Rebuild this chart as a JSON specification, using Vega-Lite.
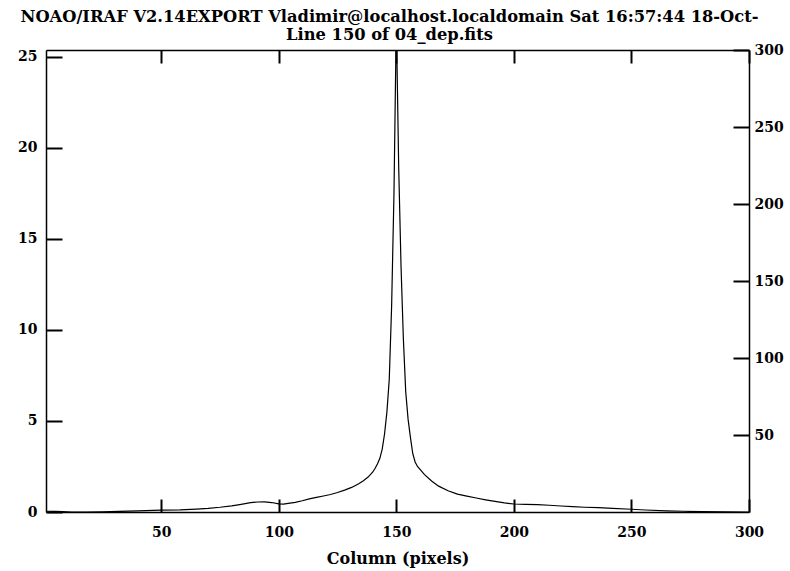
{
  "$schema": "https://vega.github.io/schema/vega-lite/v6.json",
  "width": 703,
  "height": 462,
  "autosize": {"type": "none"},
  "padding": {"left": 46, "top": 50, "right": 41, "bottom": 59},
  "background": "white",
  "config": {
    "view": {"stroke": null},
    "axis": {
      "domainColor": "black",
      "domainWidth": 1.5,
      "tickColor": "black",
      "tickWidth": 2,
      "labelColor": "black",
      "labelFont": "DejaVu Serif",
      "labelFontWeight": "bold",
      "labelFontSize": 14,
      "labelFlush": false,
      "labelOverlap": false,
      "grid": false,
      "titleColor": "black",
      "titleFont": "DejaVu Serif",
      "titleFontWeight": "bold",
      "titleFontSize": 16
    }
  },
  "title": {
    "text": ["NOAO/IRAF V2.14EXPORT Vladimir@localhost.localdomain Sat 16:57:44 18-Oct-", "Line 150 of 04_dep.fits"],
    "anchor": "middle",
    "dx": -8,
    "font": "DejaVu Serif",
    "fontSize": 16.3,
    "fontWeight": "bold",
    "lineHeight": 18,
    "offset": 0,
    "color": "black"
  },
  "data": {
    "values": [
      {"c": 1, "v": 0.04}, {"c": 5, "v": 0.03}, {"c": 8, "v": 0.02}, {"c": 12, "v": 0.0},
      {"c": 18, "v": 0.0}, {"c": 25, "v": 0.01}, {"c": 32, "v": 0.03}, {"c": 40, "v": 0.06},
      {"c": 50, "v": 0.1}, {"c": 58, "v": 0.12}, {"c": 65, "v": 0.16}, {"c": 70, "v": 0.2},
      {"c": 75, "v": 0.26}, {"c": 80, "v": 0.34}, {"c": 84, "v": 0.42}, {"c": 88, "v": 0.51},
      {"c": 91, "v": 0.55}, {"c": 94, "v": 0.56}, {"c": 97, "v": 0.52}, {"c": 100, "v": 0.45},
      {"c": 102, "v": 0.43}, {"c": 104, "v": 0.47}, {"c": 107, "v": 0.53}, {"c": 110, "v": 0.62},
      {"c": 113, "v": 0.72}, {"c": 116, "v": 0.8}, {"c": 119, "v": 0.88}, {"c": 122, "v": 0.96},
      {"c": 125, "v": 1.07}, {"c": 128, "v": 1.2}, {"c": 131, "v": 1.35}, {"c": 134, "v": 1.55},
      {"c": 136, "v": 1.72}, {"c": 138, "v": 1.92}, {"c": 140, "v": 2.2}, {"c": 141, "v": 2.4},
      {"c": 142, "v": 2.65}, {"c": 143, "v": 2.95}, {"c": 144, "v": 3.45}, {"c": 145, "v": 4.3},
      {"c": 146, "v": 5.5}, {"c": 147, "v": 7.3}, {"c": 148, "v": 11.3}, {"c": 149, "v": 17.5},
      {"c": 150, "v": 27}, {"c": 151, "v": 19}, {"c": 152, "v": 13.5}, {"c": 153, "v": 9.5},
      {"c": 154, "v": 6.6}, {"c": 155, "v": 5.1}, {"c": 156, "v": 4.1}, {"c": 157, "v": 3.2},
      {"c": 158, "v": 2.75}, {"c": 159, "v": 2.5}, {"c": 160, "v": 2.35}, {"c": 162, "v": 2.05},
      {"c": 165, "v": 1.7}, {"c": 168, "v": 1.42}, {"c": 172, "v": 1.17}, {"c": 176, "v": 0.98},
      {"c": 180, "v": 0.87}, {"c": 184, "v": 0.77}, {"c": 188, "v": 0.67}, {"c": 192, "v": 0.58},
      {"c": 196, "v": 0.5}, {"c": 200, "v": 0.44}, {"c": 205, "v": 0.42}, {"c": 210, "v": 0.4},
      {"c": 215, "v": 0.37}, {"c": 220, "v": 0.33}, {"c": 225, "v": 0.29}, {"c": 230, "v": 0.26},
      {"c": 236, "v": 0.24}, {"c": 242, "v": 0.2}, {"c": 250, "v": 0.15}, {"c": 256, "v": 0.11},
      {"c": 265, "v": 0.06}, {"c": 272, "v": 0.04}, {"c": 280, "v": 0.02}, {"c": 290, "v": 0.01},
      {"c": 300, "v": 0.0}
    ]
  },
  "layer": [
    {
      "mark": {"type": "line", "color": "black", "strokeWidth": 1.2, "clip": true},
      "encoding": {
        "x": {
          "field": "c", "type": "quantitative",
          "scale": {"domain": [1, 300], "nice": false, "zero": false},
          "axis": {"orient": "bottom", "values": [50, 100, 150, 200, 250, 300], "tickSize": -13, "labelPadding": 26, "title": "Column (pixels)", "titlePadding": 11}
        },
        "y": {
          "field": "v", "type": "quantitative",
          "scale": {"domain": [0, 25.38], "nice": false, "zero": false},
          "axis": {"orient": "left", "values": [0, 5, 10, 15, 20, 25], "tickSize": -16, "labelPadding": 25, "title": null}
        }
      }
    },
    {
      "mark": {"type": "line", "opacity": 0},
      "encoding": {
        "x": {
          "field": "c", "type": "quantitative",
          "axis": {"orient": "top", "values": [50, 100, 150, 200, 250, 300], "tickSize": -13, "labels": false, "title": null}
        },
        "y": {
          "field": "v", "type": "quantitative",
          "scale": {"domain": [0, 300], "nice": false, "zero": false},
          "axis": {"orient": "right", "values": [50, 100, 150, 200, 250, 300], "tickSize": -16, "labelPadding": 21, "labelAlign": "left", "title": null}
        }
      }
    }
  ],
  "resolve": {"scale": {"y": "independent"}, "axis": {"x": "independent", "y": "independent"}}
}
